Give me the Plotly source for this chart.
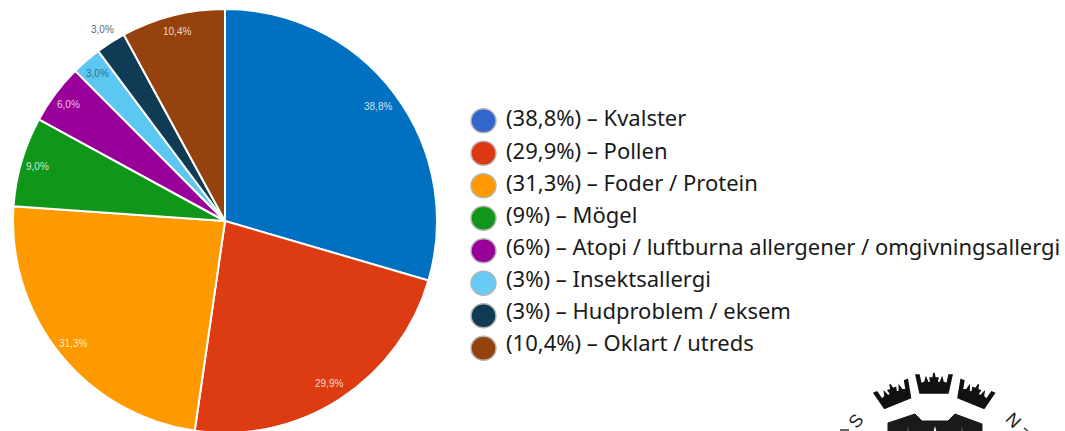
import math
import plotly.graph_objects as go

categories = ["Kvalster", "Pollen", "Foder / Protein", "Mögel",
              "Atopi / luftburna allergener / omgivningsallergi",
              "Insektsallergi", "Hudproblem / eksem", "Oklart / utreds"]
values = [38.8, 29.9, 31.3, 9.0, 6.0, 3.0, 3.0, 10.4]
legend_pct = ["38,8%", "29,9%", "31,3%", "9%", "6%", "3%", "3%", "10,4%"]
slice_labels = ["38,8%", "29,9%", "31,3%", "9,0%", "6,0%", "3,0%", "3,0%", "10,4%"]
slice_colors = ["#0070C0", "#DD3B12", "#FF9900", "#109618", "#990099", "#5CC8F2", "#0F3B55", "#96420F"]
legend_colors = ["#3366CC", "#DC3912", "#FF9900", "#109618", "#990099", "#66CCF5", "#0F3B55", "#96420F"]
label_colors = ["#CFE3F5", "#F6D5C8", "#FFE9C7", "#CFE8CF", "#EBC4EB", "#2C6E96", "#666666", "#F3D7C0"]
label_radius = [0.9, 0.91, 0.92, 0.92, 0.92, 0.92, 1.07, 0.92]

W, H = 1065, 442
CX, CY, R = 225, 221, 212

def px(x):
    return x / W

def py(y):
    return 1 - y / H

def poly(points):
    return "M " + " L ".join(f"{px(x):.5f},{py(y):.5f}" for x, y in points) + " Z"

fig = go.Figure(go.Pie(
    values=values, labels=categories, sort=False, direction="clockwise", rotation=0,
    marker=dict(colors=slice_colors, line=dict(color="white", width=2)),
    textinfo="none", hoverinfo="label+percent", showlegend=False,
    domain=dict(x=[px(CX - R), px(CX + R)], y=[py(CY + R), py(CY - R)]),
))

annotations, shapes = [], []
total, cum = sum(values), 0.0
for v, t, c, rr in zip(values, slice_labels, label_colors, label_radius):
    a = 2 * math.pi * (cum + v / 2) / total
    cum += v
    annotations.append(dict(
        x=px(CX + rr * R * math.sin(a)), y=py(CY - rr * R * math.cos(a)),
        xref="paper", yref="paper", xanchor="center", yanchor="middle",
        text=t, showarrow=False,
        font=dict(family="Liberation Sans", size=10, color=c)))

for i, (cat, pct, col) in enumerate(zip(categories, legend_pct, legend_colors)):
    cy = 120.7 + i * 32.5
    shapes.append(dict(type="circle", xref="paper", yref="paper",
                       x0=px(471), x1=px(496), y0=py(cy + 12), y1=py(cy - 12),
                       fillcolor=col, line=dict(color="#B5B5B5", width=1.5)))
    annotations.append(dict(
        x=px(504), y=py(117.5 + i * 32), xref="paper", yref="paper",
        xanchor="left", yanchor="middle",
        text=f"({pct}) – {cat}", showarrow=False,
        font=dict(family="Noto Sans", size=22, color="#1a1a1a")))

# Logo fragment at the lower right
half = [(14, 0), (18, 18), (15, 18), (13, 9), (9, 11), (8, 15), (6, 10), (3, 11), (4, 15), (1, 15), (0, 20)]
crown = half + [(-x, y) for x, y in reversed(half[:-1])]
for ox, oy, deg in [(897.5, 403, -22), (934, 393, 0), (971, 403, 22)]:
    t = math.radians(deg)
    pts = [(ox + x * math.cos(t) + y * math.sin(t), oy + x * math.sin(t) - y * math.cos(t)) for x, y in crown]
    shapes.append(dict(type="path", xref="paper", yref="paper", path=poly(pts),
                       fillcolor="#111111", line=dict(color="#111111", width=1.5)))
shield = [(888, 442), (888, 423), (915, 414), (922, 421), (948, 421), (955, 414), (982, 424), (982, 442)]
shapes.append(dict(type="path", xref="paper", yref="paper", path=poly(shield),
                   fillcolor="#1a1a1a", line=dict(color="#1a1a1a", width=1)))
shapes.append(dict(type="path", xref="paper", yref="paper",
                   path=poly([(931, 442), (935, 426), (939, 442)]),
                   fillcolor="white", line=dict(color="white", width=0)))
for sx in (908, 962):
    shapes.append(dict(type="path", xref="paper", yref="paper",
                       path=poly([(sx - 2, 442), (sx, 426), (sx + 2, 442)]),
                       fillcolor="#777777", line=dict(color="#777777", width=0)))
shapes.append(dict(type="line", xref="paper", yref="paper",
                   x0=px(840), x1=px(849), y0=py(430), y1=py(430),
                   line=dict(color="#333333", width=1.5)))
shapes.append(dict(type="line", xref="paper", yref="paper",
                   x0=px(1024), x1=px(1028), y0=py(428), y1=py(431),
                   line=dict(color="#333333", width=1.5)))
for ch, x, y, ang in [("S", 856, 421, -50), ("N", 1013, 420, 45)]:
    annotations.append(dict(x=px(x), y=py(y), xref="paper", yref="paper", text=ch, showarrow=False,
                            xanchor="center", yanchor="middle", textangle=ang,
                            font=dict(family="Liberation Sans", size=18, color="#222222")))

fig.update_layout(width=W, height=H, margin=dict(l=0, r=0, t=0, b=0),
                  paper_bgcolor="white", annotations=annotations, shapes=shapes)
fig.write_html("out.html", config=dict(displayModeBar=False),
               post_script="document.body.style.margin='0';document.documentElement.style.overflow='hidden';document.body.style.overflow='hidden';")
